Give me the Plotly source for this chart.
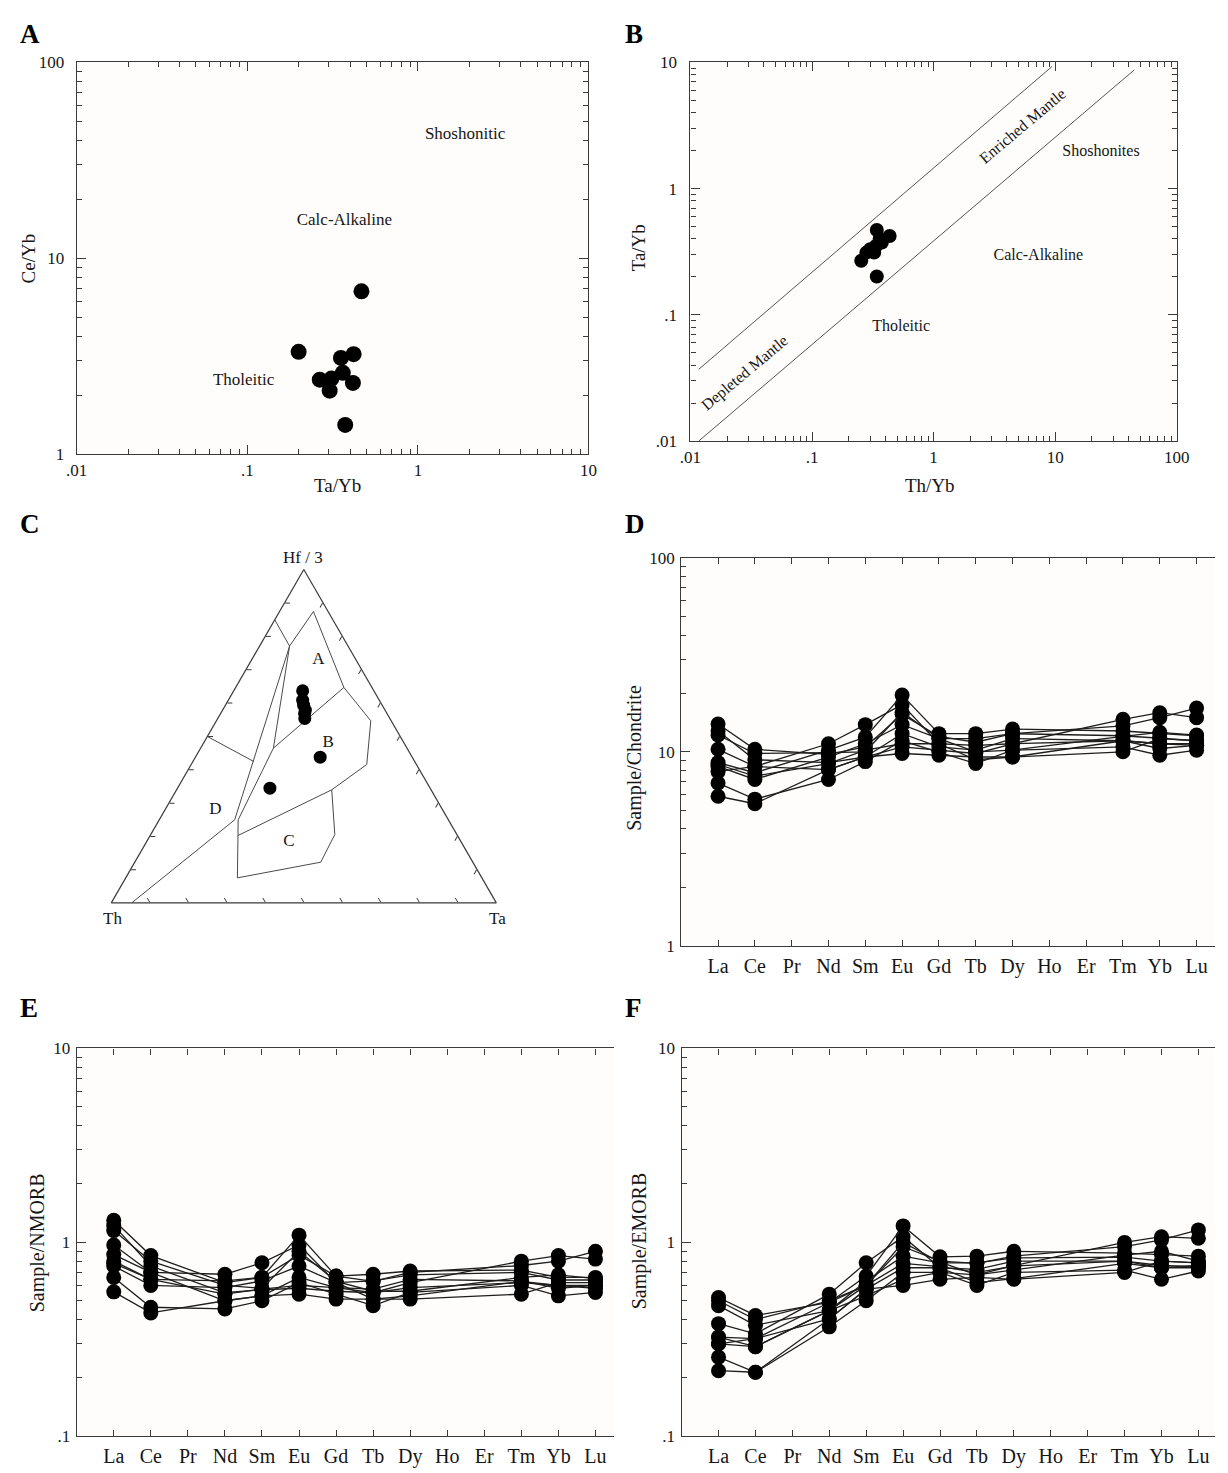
import numpy as np
import plotly.graph_objects as go

FIG_W, FIG_H = 1228, 1473
SERIF = "Liberation Serif"
INK = "#161616"
AXC = "#3a3a3a"

# ---------------- A: Ce/Yb vs Ta/Yb ----------------
a_ta_yb = [0.200, 0.467, 0.354, 0.420, 0.363, 0.266, 0.311, 0.304, 0.416, 0.375]
a_ce_yb = [3.33, 6.78, 3.10, 3.24, 2.60, 2.40, 2.43, 2.11, 2.31, 1.41]
a_field_names = ["Shoshonitic", "Calc-Alkaline", "Tholeitic"]
a_field_x = [1.89, 0.371, 0.0952]
a_field_y = [42.8, 15.6, 2.36]

# ---------------- B: Ta/Yb vs Th/Yb ----------------
b_th_yb = [0.341, 0.435, 0.375, 0.335, 0.280, 0.324, 0.254, 0.341, 0.360, 0.300]
b_ta_yb = [0.469, 0.421, 0.373, 0.351, 0.311, 0.311, 0.268, 0.201, 0.400, 0.330]
b_upper_x = [0.0117, 9.4]
b_upper_y = [0.037, 9.25]
b_lower_x = [0.0117, 44.7]
b_lower_y = [0.010, 8.7]
b_field_names = ["Shoshonites", "Calc-Alkaline", "Tholeitic"]
b_field_x = [23.8, 7.27, 0.541]
b_field_y = [1.96, 0.293, 0.0807]
b_mantle_names = ["Enriched Mantle", "Depleted Mantle"]
b_mantle_x = [5.42, 0.0279]
b_mantle_y = [3.14, 0.0348]

# ---------------- C: Th - Hf/3 - Ta ternary ----------------
c_hf3 = [0.636, 0.608, 0.593, 0.578, 0.553, 0.568, 0.437, 0.344]
c_th = [0.185, 0.199, 0.204, 0.207, 0.221, 0.214, 0.239, 0.416]
c_ta = [0.179, 0.193, 0.203, 0.215, 0.226, 0.218, 0.324, 0.240]

# field boundaries (Hf/3, Th, Ta)
bnd_top_hf3 = [0.849, 0.770]
bnd_top_th = [0.151, 0.152]
bnd_top_ta = [0.000, 0.078]
bnd_ab_outer_hf3 = [0.770, 0.874, 0.646, 0.546, 0.415, 0.339, 0.202]
bnd_ab_outer_th = [0.152, 0.038, 0.073, 0.053, 0.129, 0.258, 0.570]
bnd_ab_outer_ta = [0.078, 0.088, 0.281, 0.401, 0.456, 0.403, 0.228]
bnd_a_b_hf3 = [0.646, 0.464]
bnd_a_b_th = [0.073, 0.347]
bnd_a_b_ta = [0.281, 0.189]
bnd_left_hf3 = [0.770, 0.464, 0.249, 0.202, 0.075]
bnd_left_th = [0.152, 0.347, 0.546, 0.570, 0.635]
bnd_left_ta = [0.078, 0.189, 0.205, 0.228, 0.290]
bnd_d_hf3 = [0.770, 0.249, 0.000]
bnd_d_th = [0.152, 0.555, 0.947]
bnd_d_ta = [0.078, 0.196, 0.053]
bnd_d_split_hf3 = [0.499, 0.424]
bnd_d_split_th = [0.501, 0.418]
bnd_d_split_ta = [0.000, 0.158]
bnd_c_hf3 = [0.339, 0.205, 0.122, 0.075]
bnd_c_th = [0.258, 0.317, 0.395, 0.635]
bnd_c_ta = [0.403, 0.478, 0.483, 0.290]
c_field_names = ["A", "B", "C", "D"]
c_field_hf3 = [0.728, 0.481, 0.182, 0.279]
c_field_th = [0.098, 0.196, 0.448, 0.590]
c_field_ta = [0.174, 0.323, 0.370, 0.131]

# ---------------- D-F: REE patterns ----------------
ree_labels = ["La", "Ce", "Pr", "Nd", "Sm", "Eu", "Gd", "Tb", "Dy", "Ho", "Er", "Tm", "Yb", "Lu"]
analysed = ["La", "Ce", "Nd", "Sm", "Eu", "Gd", "Tb", "Dy", "Tm", "Yb", "Lu"]

chondrite = [
    [13.9, 10.3, 9.7, 10.6, 15.6, 12.0, 11.2, 12.4, 13.6, 15.0, 16.8],
    [12.8, 9.1, 8.8, 9.4, 10.6, 10.2, 9.8, 11.0, 14.7, 15.9, 15.0],
    [10.3, 8.4, 11.0, 13.8, 17.5, 11.0, 9.1, 9.4, 11.4, 11.0, 10.8],
    [8.8, 7.8, 10.2, 11.9, 19.6, 12.4, 12.4, 13.1, 12.8, 12.4, 12.1],
    [8.4, 7.2, 9.4, 11.0, 13.8, 11.7, 11.7, 12.4, 12.1, 11.7, 11.4],
    [7.9, 8.4, 8.1, 9.4, 12.4, 10.6, 10.2, 11.7, 11.4, 10.4, 10.8],
    [6.9, 5.7, 7.2, 8.9, 11.4, 10.0, 8.7, 10.2, 10.6, 9.6, 10.2],
    [5.9, 5.4, 8.1, 9.4, 9.8, 9.6, 9.4, 9.4, 10.0, 11.7, 11.4],
    [8.6, 7.5, 8.7, 10.2, 11.0, 11.0, 10.8, 11.0, 11.4, 11.0, 11.0],
    [12.2, 9.8, 9.9, 10.0, 16.0, 11.7, 10.0, 10.2, 12.0, 12.6, 12.2],
]
nmorb = [
    [1.30, 0.855, 0.62, 0.66, 0.86, 0.67, 0.63, 0.70, 0.76, 0.80, 0.90],
    [1.22, 0.755, 0.55, 0.57, 0.58, 0.56, 0.55, 0.62, 0.80, 0.855, 0.82],
    [0.97, 0.70, 0.685, 0.785, 0.97, 0.62, 0.51, 0.53, 0.63, 0.60, 0.60],
    [0.80, 0.645, 0.633, 0.66, 1.09, 0.67, 0.685, 0.712, 0.72, 0.66, 0.66],
    [0.755, 0.60, 0.585, 0.633, 0.755, 0.62, 0.633, 0.68, 0.70, 0.64, 0.64],
    [0.865, 0.70, 0.50, 0.53, 0.66, 0.585, 0.574, 0.645, 0.633, 0.58, 0.60],
    [0.66, 0.463, 0.454, 0.50, 0.62, 0.541, 0.472, 0.552, 0.60, 0.53, 0.552],
    [0.556, 0.433, 0.50, 0.53, 0.541, 0.51, 0.51, 0.51, 0.541, 0.62, 0.62],
    [0.78, 0.645, 0.541, 0.574, 0.60, 0.585, 0.55, 0.585, 0.62, 0.60, 0.58],
    [1.15, 0.80, 0.60, 0.58, 0.90, 0.63, 0.56, 0.56, 0.66, 0.68, 0.65],
]
emorb = [
    [0.52, 0.42, 0.49, 0.60, 0.95, 0.80, 0.78, 0.85, 0.95, 1.03, 1.16],
    [0.472, 0.374, 0.445, 0.53, 0.645, 0.70, 0.68, 0.76, 1.00, 1.07, 1.05],
    [0.381, 0.338, 0.541, 0.785, 1.07, 0.74, 0.62, 0.65, 0.78, 0.74, 0.74],
    [0.325, 0.319, 0.49, 0.671, 1.216, 0.842, 0.849, 0.90, 0.88, 0.865, 0.849],
    [0.30, 0.29, 0.445, 0.633, 0.849, 0.785, 0.785, 0.832, 0.84, 0.80, 0.785],
    [0.30, 0.319, 0.403, 0.574, 0.74, 0.74, 0.726, 0.80, 0.80, 0.74, 0.76],
    [0.256, 0.214, 0.367, 0.50, 0.70, 0.70, 0.60, 0.70, 0.72, 0.645, 0.712],
    [0.218, 0.214, 0.403, 0.574, 0.60, 0.645, 0.66, 0.645, 0.70, 0.80, 0.785],
    [0.325, 0.29, 0.445, 0.60, 0.78, 0.75, 0.70, 0.755, 0.80, 0.76, 0.75],
    [0.50, 0.40, 0.50, 0.60, 1.00, 0.79, 0.68, 0.72, 0.86, 0.90, 0.80],
]


def fx(p):
    """Pixel column -> paper fraction."""
    return min(1.0, max(0.0, p / FIG_W))


def fy(p):
    """Pixel row -> paper fraction."""
    return min(1.0, max(0.0, 1 - p / FIG_H))


def log_minor(lo, hi):
    return [m * 10.0 ** e for e in range(lo, hi) for m in range(2, 10)]


def log_axis(domain, lo, hi, labels, anchor, mirror=True, standoff=0):
    vals = [10.0 ** e for e in range(lo, hi + 1)]
    return dict(
        type="log", domain=domain, range=[lo, hi], anchor=anchor,
        showline=True, linecolor=AXC, linewidth=1.3,
        mirror="allticks" if mirror else False,
        ticks="inside", ticklen=9, tickwidth=1.2, tickcolor=AXC,
        tickmode="array", tickvals=vals, ticktext=labels,
        minor=dict(tickmode="array", tickvals=log_minor(lo, hi),
                   ticks="inside", ticklen=5, tickwidth=1, tickcolor=AXC),
        ticklabelstandoff=standoff,
        showgrid=False, zeroline=False,
        tickfont=dict(family=SERIF, size=17, color=INK),
    )


def cat_axis(domain, hi, anchor):
    return dict(
        domain=domain, range=[-1.0, hi], anchor=anchor,
        showline=True, linecolor=AXC, linewidth=1.3, mirror="allticks",
        ticks="inside", ticklen=6, tickwidth=1.2, tickcolor=AXC,
        tickmode="array", tickvals=list(range(len(ree_labels))), ticktext=ree_labels,
        ticklabelstandoff=2,
        showgrid=False, zeroline=False,
        tickfont=dict(family=SERIF, size=20, color=INK),
    )


fig = go.Figure()

# A
fig.add_trace(go.Scatter(x=a_ta_yb, y=a_ce_yb, mode="markers",
                         marker=dict(color="#000000", size=16),
                         xaxis="x", yaxis="y", showlegend=False))
fig.add_trace(go.Scatter(x=a_field_x, y=a_field_y, mode="text", text=a_field_names,
                         textfont=dict(family=SERIF, size=17, color=INK),
                         xaxis="x", yaxis="y", showlegend=False))

# B
for lx, ly in ((b_upper_x, b_upper_y), (b_lower_x, b_lower_y)):
    fig.add_trace(go.Scatter(x=lx, y=ly, mode="lines", line=dict(color="#555555", width=1),
                             xaxis="x2", yaxis="y2", showlegend=False))
fig.add_trace(go.Scatter(x=b_th_yb, y=b_ta_yb, mode="markers", marker=dict(color="#000000", size=14),
                         xaxis="x2", yaxis="y2", showlegend=False))
fig.add_trace(go.Scatter(x=b_field_x, y=b_field_y, mode="text", text=b_field_names,
                         textfont=dict(family=SERIF, size=16, color=INK),
                         xaxis="x2", yaxis="y2", showlegend=False))

# C
boundaries = [
    (bnd_top_hf3, bnd_top_th, bnd_top_ta),
    (bnd_ab_outer_hf3, bnd_ab_outer_th, bnd_ab_outer_ta),
    (bnd_a_b_hf3, bnd_a_b_th, bnd_a_b_ta),
    (bnd_left_hf3, bnd_left_th, bnd_left_ta),
    (bnd_d_hf3, bnd_d_th, bnd_d_ta),
    (bnd_d_split_hf3, bnd_d_split_th, bnd_d_split_ta),
    (bnd_c_hf3, bnd_c_th, bnd_c_ta),
]
for ba, bb, bc in boundaries:
    fig.add_trace(go.Scatterternary(a=ba, b=bb, c=bc, mode="lines",
                                    line=dict(color="#4a4a4a", width=1), showlegend=False))
fig.add_trace(go.Scatterternary(a=c_hf3, b=c_th, c=c_ta, mode="markers",
                                marker=dict(color="#000000", size=13), showlegend=False))
fig.add_trace(go.Scatterternary(a=c_field_hf3, b=c_field_th, c=c_field_ta, mode="text",
                                text=c_field_names,
                                textfont=dict(family=SERIF, size=17, color=INK), showlegend=False))

# D-F
xpos = [ree_labels.index(e) for e in analysed]
for rows, xa, ya in ((chondrite, "x3", "y3"), (nmorb, "x4", "y4"), (emorb, "x5", "y5")):
    for row in rows:
        fig.add_trace(go.Scatter(x=xpos, y=row, mode="lines+markers",
                                 line=dict(color="#1e1e1e", width=1.3),
                                 marker=dict(color="#000000", size=15),
                                 xaxis=xa, yaxis=ya, showlegend=False))

tern_axis = dict(showline=True, linecolor=AXC, linewidth=1.2, showgrid=False,
                 ticks="inside", ticklen=5, tickcolor=AXC, tickwidth=1,
                 tick0=0, dtick=0.1, showticklabels=False)

fig.update_layout(
    width=FIG_W, height=FIG_H, margin=dict(l=0, r=0, t=0, b=0),
    paper_bgcolor="#ffffff", plot_bgcolor="#fffdfb",
    font=dict(family=SERIF, color=INK),
    xaxis=log_axis([fx(67), fx(589)], -2, 1, [".01", ".1", "1", "10"], "y", standoff=0),
    yaxis=log_axis([fy(451), fy(54)], 0, 2, ["1", "10", "100"], "x", standoff=8),
    xaxis2=log_axis([fx(693), fx(1189)], -2, 2, [".01", ".1", "1", "10", "100"], "y2", standoff=0),
    yaxis2=log_axis([fy(437.7), fy(54)], -2, 1, [".01", ".1", "1", "10"], "x2", standoff=9),
    xaxis3=cat_axis([fx(683.6), fx(1228)], 13.5, "y3"),
    yaxis3=log_axis([fy(949), fy(556)], 0, 2, ["1", "10", "100"], "x3", mirror=False, standoff=2),
    xaxis4=cat_axis([fx(67), fx(615)], 13.5, "y4"),
    yaxis4=log_axis([fy(1446), fy(1053)], -1, 1, [".1", "1", "10"], "x4", mirror=False, standoff=2),
    xaxis5=cat_axis([fx(684), fx(1228)], 13.45, "y5"),
    yaxis5=log_axis([fy(1446), fy(1053)], -1, 1, [".1", "1", "10"], "x5", mirror=False, standoff=2),
    ternary=dict(
        domain=dict(x=[fx(102.3), fx(495)], y=[fy(906.7), fy(566.6)]),
        sum=1, bgcolor="rgba(0,0,0,0)",
        aaxis=dict(tern_axis, title=dict(text="")),
        baxis=dict(tern_axis, title=dict(text="")),
        caxis=dict(tern_axis, title=dict(text="")),
    ),
)

ann = []
# panel letters
for letter, px, py in (("A", 7, 25), ("B", 624, 25), ("C", 7, 522),
                       ("D", 624, 522), ("E", 7, 1012), ("F", 624, 1012)):
    ann.append(dict(text="<b>%s</b>" % letter, x=fx(px), y=fy(py), xref="paper", yref="paper",
                    xanchor="left", yanchor="middle", showarrow=False,
                    font=dict(family=SERIF, size=27, color="#000000")))

# axis titles
titles = [
    ("Ta/Yb", 333, 483, 0, 19), ("Ce/Yb", 18, 253, -90, 19),
    ("Th/Yb", 937, 483, 0, 19), ("Ta/Yb", 640, 242, -90, 19),
    ("Sample/Chondrite", 636, 759, -90, 20),
    ("Sample/NMORB", 27, 1250, -90, 20),
    ("Sample/EMORB", 641, 1248, -90, 20),
    ("Hf / 3", 298, 556, 0, 17), ("Th", 104, 921, 0, 17), ("Ta", 496, 921, 0, 17),
]
for txt, px, py, ang, size in titles:
    ann.append(dict(text=txt, x=fx(px), y=fy(py), xref="paper", yref="paper",
                    xanchor="center", yanchor="middle", showarrow=False, textangle=ang,
                    font=dict(family=SERIF, size=size, color=INK)))

# mantle array labels along the diagonals of B
for name, mx, my in zip(b_mantle_names, b_mantle_x, b_mantle_y):
    ann.append(dict(text=name, x=np.log10(mx), y=np.log10(my), xref="x2", yref="y2",
                    showarrow=False, textangle=-40,
                    font=dict(family=SERIF, size=16, color=INK)))

fig.update_layout(annotations=ann)

fig.write_html("out.html")
